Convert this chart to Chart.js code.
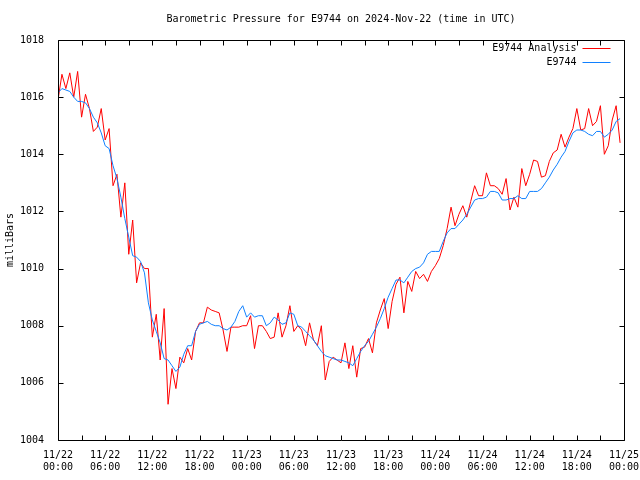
<!DOCTYPE html>
<html>
<head>
<meta charset="utf-8">
<title>Barometric Pressure for E9744</title>
<script src="https://cdn.jsdelivr.net/npm/chart.js@4"></script>
<style>
  html, body { margin: 0; padding: 0; background: #fff; }
</style>
</head>
<body>
<canvas id="chart" width="640" height="480"></canvas>
<script>
// half-hourly samples starting 2024-11-22 00:00 UTC
const stepHours = 0.5;

const analysisPressure = [
    1015.9, 1016.8, 1016.3, 1016.85, 1016.0, 1016.9, 1015.3, 1016.1, 1015.6, 1014.8,
    1014.95, 1015.6, 1014.5, 1014.9, 1012.9, 1013.3, 1011.8, 1013.0, 1010.5, 1011.7,
    1009.5, 1010.2, 1010.0, 1010.0, 1007.6, 1008.4, 1006.8, 1008.6, 1005.25, 1006.5,
    1005.8, 1006.9, 1006.7, 1007.2, 1006.8, 1007.8, 1008.1, 1008.1, 1008.65, 1008.55,
    1008.5, 1008.45, 1007.85, 1007.1, 1007.95, 1007.95, 1007.95, 1008.0, 1008.0, 1008.35,
    1007.2, 1008.0, 1008.0, 1007.8, 1007.55, 1007.6, 1008.45, 1007.6, 1008.0, 1008.7,
    1007.8, 1008.0, 1007.85, 1007.3, 1008.1, 1007.5, 1007.3, 1008.0, 1006.1, 1006.75,
    1006.9, 1006.8, 1006.7, 1007.4, 1006.5, 1007.3, 1006.2, 1007.2, 1007.25, 1007.55,
    1007.05, 1008.1, 1008.55, 1008.95, 1007.9, 1008.85, 1009.45, 1009.7, 1008.45, 1009.55,
    1009.2, 1009.9, 1009.65, 1009.8, 1009.55, 1009.9, 1010.1, 1010.35, 1010.8, 1011.4,
    1012.15, 1011.5, 1011.9, 1012.2, 1011.8, 1012.35, 1012.9, 1012.55, 1012.55, 1013.35,
    1012.9, 1012.9, 1012.8, 1012.6, 1013.15, 1012.05, 1012.5, 1012.15, 1013.5, 1012.9,
    1013.3, 1013.8, 1013.75, 1013.2, 1013.25, 1013.75, 1014.05, 1014.15, 1014.7, 1014.25,
    1014.6, 1014.9, 1015.6, 1014.85, 1014.9, 1015.6, 1015.0, 1015.15, 1015.7, 1014.0,
    1014.3, 1015.2, 1015.7, 1014.4
];

const stationPressure = [
    1016.15, 1016.3, 1016.25, 1016.2, 1016.0, 1015.85, 1015.85, 1015.8, 1015.6, 1015.3,
    1015.1, 1014.75, 1014.3, 1014.2, 1013.6, 1013.15, 1012.5, 1011.75, 1011.1, 1010.45,
    1010.4, 1010.25, 1009.85, 1008.8, 1008.2, 1007.8, 1007.4, 1006.85, 1006.8, 1006.6,
    1006.4, 1006.55, 1007.0, 1007.3, 1007.3, 1007.8, 1008.05, 1008.1, 1008.15, 1008.05,
    1008.0, 1008.0, 1007.9, 1007.85, 1007.95, 1008.15, 1008.5, 1008.7, 1008.3, 1008.45,
    1008.3, 1008.35, 1008.35, 1008.0, 1008.1, 1008.3, 1008.2, 1008.05, 1008.1, 1008.45,
    1008.4, 1008.0, 1007.95, 1007.8, 1007.65, 1007.5, 1007.3, 1007.1, 1006.95, 1006.9,
    1006.85, 1006.8, 1006.8, 1006.75, 1006.7, 1006.6, 1006.85, 1007.1, 1007.3, 1007.45,
    1007.7, 1007.95, 1008.25, 1008.6, 1009.0, 1009.3, 1009.6, 1009.6, 1009.5, 1009.7,
    1009.9, 1010.0, 1010.05, 1010.2, 1010.5, 1010.6, 1010.6, 1010.6, 1010.95, 1011.25,
    1011.4, 1011.4, 1011.55, 1011.7, 1011.9, 1012.15, 1012.4, 1012.45, 1012.45, 1012.5,
    1012.7, 1012.7, 1012.65, 1012.4, 1012.4, 1012.45, 1012.45, 1012.55, 1012.45, 1012.45,
    1012.7, 1012.7, 1012.7, 1012.8, 1013.0, 1013.2, 1013.45, 1013.65, 1013.9, 1014.1,
    1014.45, 1014.75, 1014.85, 1014.85, 1014.8, 1014.7, 1014.65, 1014.8, 1014.8, 1014.6,
    1014.7, 1014.85, 1015.15, 1015.25
];

// x tick labels, one every 6 hours
const tickDates = ['11/22', '11/22', '11/22', '11/22', '11/23', '11/23', '11/23',
                   '11/23', '11/24', '11/24', '11/24', '11/24', '11/25'];
const tickTimes = ['00:00', '06:00', '12:00', '18:00', '00:00', '06:00', '12:00',
                   '18:00', '00:00', '06:00', '12:00', '18:00', '00:00'];
const yTicks = [1004, 1006, 1008, 1010, 1012, 1014, 1016, 1018];

const chartTitle = 'Barometric Pressure for E9744 on 2024-Nov-22 (time in UTC)';
const legendLabels = ['E9744 Analysis', 'E9744'];
const seriesColors = ['#ff0000', '#1080ff'];

const FONT = '"DejaVu Sans Mono", "Liberation Mono", monospace';
const labelHours = 6;
const minorHours = 3;

function toPoints(values) {
    return values.map((p, i) => ({ x: i * stepHours, y: p }));
}

// gnuplot style border, inward ticks, title centred on the plot and key
const gnuplotFrame = {
    id: 'gnuplotFrame',
    afterDatasetsDraw(chart) {
        const { ctx, chartArea: a, scales } = chart;
        const x = scales.x, y = scales.y;
        const L = Math.round(a.left) + 0.5, R = Math.round(a.right) + 0.5;
        const T = Math.round(a.top) + 0.5, B = Math.round(a.bottom) + 0.5;
        const tick = 5;

        ctx.save();
        ctx.strokeStyle = '#000';
        ctx.lineWidth = 1;
        ctx.beginPath();
        ctx.rect(L, T, R - L, B - T);
        for (let h = x.min; h <= x.max; h += minorHours) {
            const px = Math.round(x.getPixelForValue(h)) + 0.5;
            ctx.moveTo(px, B); ctx.lineTo(px, B - tick);
            ctx.moveTo(px, T); ctx.lineTo(px, T + tick);
        }
        yTicks.forEach(v => {
            const py = Math.round(y.getPixelForValue(v)) + 0.5;
            ctx.moveTo(L, py); ctx.lineTo(L + tick, py);
            ctx.moveTo(R, py); ctx.lineTo(R - tick, py);
        });
        ctx.stroke();

        ctx.font = '10px ' + FONT;
        ctx.fillStyle = '#000';
        ctx.textBaseline = 'middle';
        ctx.textAlign = 'center';
        ctx.fillText(chartTitle, (a.left + a.right) / 2, a.top - 21);

        ctx.textAlign = 'right';
        legendLabels.forEach((text, i) => {
            const ly = Math.round(a.top + 8 + i * 14) + 0.5;
            ctx.fillStyle = '#000';
            ctx.fillText(text, R - 48, ly);
            ctx.strokeStyle = seriesColors[i];
            ctx.beginPath();
            ctx.moveTo(R - 42, ly);
            ctx.lineTo(R - 14, ly);
            ctx.stroke();
        });
        ctx.restore();
    }
};

new Chart(document.getElementById('chart'), {
    type: 'line',
    data: {
        datasets: [{
            label: legendLabels[0],
            data: toPoints(analysisPressure),
            borderColor: seriesColors[0],
            borderWidth: 1,
            pointRadius: 0,
            order: 1
        }, {
            label: legendLabels[1],
            data: toPoints(stationPressure),
            borderColor: seriesColors[1],
            borderWidth: 1,
            pointRadius: 0,
            order: 0
        }]
    },
    options: {
        responsive: false,
        animation: false,
        layout: { padding: { top: 40, right: 16, bottom: 0, left: 0 } },
        plugins: {
            legend: { display: false },
            tooltip: { enabled: false },
            title: { display: false }
        },
        scales: {
            x: {
                type: 'linear',
                min: 0,
                max: 72,
                border: { display: false },
                grid: { display: false },
                ticks: {
                    stepSize: labelHours,
                    autoSkip: false,
                    maxRotation: 0,
                    padding: 1,
                    color: '#000',
                    font: { family: FONT, size: 10 },
                    callback: v => {
                        const i = Math.round(v / labelHours);
                        return [tickDates[i], tickTimes[i]];
                    }
                },
                afterFit: s => {
                    s.height = 40;
                    s.paddingLeft = 0;
                    s.paddingRight = 0;
                }
            },
            y: {
                min: yTicks[0],
                max: yTicks[yTicks.length - 1],
                border: { display: false },
                grid: { display: false },
                ticks: {
                    stepSize: 2,
                    padding: 6,
                    color: '#000',
                    font: { family: FONT, size: 10 },
                    callback: v => String(v)
                },
                title: {
                    display: true,
                    text: 'milliBars',
                    color: '#000',
                    font: { family: FONT, size: 10 },
                    padding: { top: 4, bottom: 0 }
                },
                afterFit: s => {
                    s.width = 58;
                    s.paddingTop = 0;
                    s.paddingBottom = 0;
                }
            }
        }
    },
    plugins: [gnuplotFrame]
});
</script>
</body>
</html>
